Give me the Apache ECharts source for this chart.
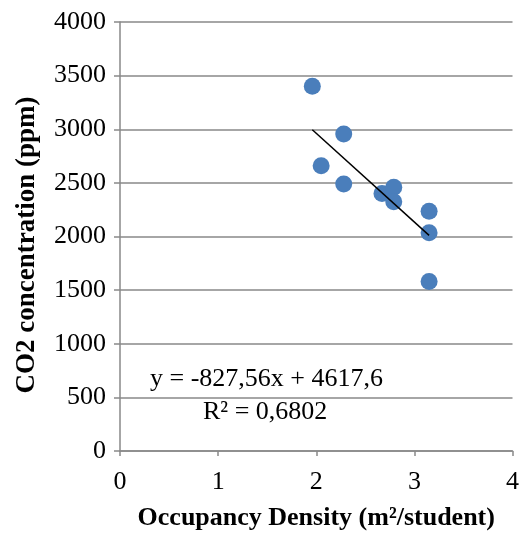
<!DOCTYPE html>
<html>
<head>
<meta charset="utf-8">
<script src="https://cdn.jsdelivr.net/npm/echarts@6/dist/echarts.min.js"></script>
<style>html,body{margin:0;padding:0;background:#fff}#c{width:522px;height:538px}</style>
</head>
<body>
<div id="c"></div>
<script>
const density = [1.96, 2.05, 2.28, 2.28, 2.67, 2.79, 2.79, 3.15, 3.15, 3.15];
const co2 = [3400, 2660, 2955, 2490, 2400, 2460, 2325, 2235, 2035, 1580];
const trendX = [1.96, 3.15];
const trendY = [2995, 2011];
const xTicks = [0, 1, 2, 3, 4];
const yTicks = [0, 500, 1000, 1500, 2000, 2500, 3000, 3500, 4000];
const equationText = 'y = -827,56x + 4617,6';
const r2Text = 'R² = 0,6802';
const xTitle = 'Occupancy Density (m²/student)';
const yTitle = 'CO2 concentration (ppm)';

const font = '"Liberation Serif", "Times New Roman", serif';
const chart = echarts.init(document.getElementById('c'), null, {renderer: 'canvas'});
chart.setOption({
  animation: false,
  backgroundColor: '#fff',
  grid: {left: 120, right: 6, top: 22, bottom: 87},
  xAxis: {
    type: 'value', min: xTicks[0], max: xTicks[xTicks.length - 1], interval: 1,
    name: xTitle, nameLocation: 'middle', nameGap: 54,
    nameTextStyle: {fontFamily: font, fontSize: 26, fontWeight: 'bold', color: '#000'},
    axisLine: {show: true, onZero: false, lineStyle: {color: '#898989', width: 1.5}},
    axisTick: {show: true, length: 5, lineStyle: {color: '#898989', width: 1.5}},
    axisLabel: {fontFamily: font, fontSize: 26, color: '#000', margin: 18, formatter: v => String(v)},
    splitLine: {show: false}
  },
  yAxis: {
    type: 'value', min: yTicks[0], max: yTicks[yTicks.length - 1], interval: 500,
    axisLine: {show: true, lineStyle: {color: '#898989', width: 1.5}},
    axisTick: {show: true, length: 6, lineStyle: {color: '#898989', width: 1.5}},
    axisLabel: {fontFamily: font, fontSize: 26, color: '#000', margin: 14, formatter: v => String(v)},
    splitLine: {show: true, lineStyle: {color: '#898989', width: 1.5}}
  },
  series: [
    {
      type: 'scatter', symbol: 'circle', symbolSize: 17,
      itemStyle: {color: '#4A7EBB', opacity: 1},
      data: density.map((x, i) => [x, co2[i]]),
      z: 2
    },
    {
      type: 'line', symbol: 'none',
      lineStyle: {color: '#000', width: 1.5},
      data: trendX.map((x, i) => [x, trendY[i]]),
      z: 3
    }
  ],
  graphic: [
    {type: 'text', x: 27, y: 245, rotation: Math.PI / 2,
     style: {text: yTitle, font: 'bold 27px ' + font, fill: '#000', align: 'center', verticalAlign: 'middle'}},
    {type: 'text', left: 150, top: 366, style: {text: equationText, font: '26px ' + font, fill: '#000'}},
    {type: 'text', left: 203, top: 399, style: {text: r2Text, font: '26px ' + font, fill: '#000'}}
  ]
});
</script>
</body>
</html>
